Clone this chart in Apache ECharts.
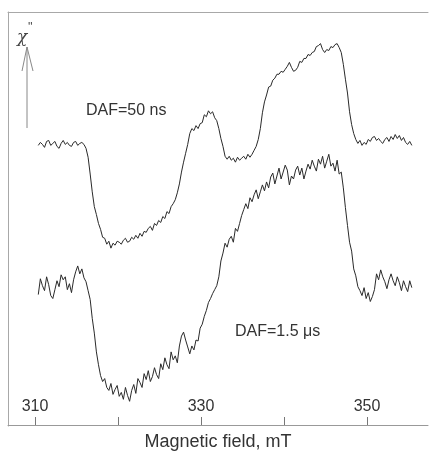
<!DOCTYPE html>
<html>
<head>
<meta charset="utf-8">
<script src="https://cdn.jsdelivr.net/npm/echarts@6/dist/echarts.min.js"></script>
<style>
  html, body { margin: 0; padding: 0; background: #fff; }
  #chart { width: 430px; height: 456px; }
</style>
</head>
<body>
<div id="chart"></div>
<script>
// magnetic field, mT (sampling grid shared by both traces)
const field = [
  310.4, 310.65, 310.9, 311.15, 311.4, 311.65, 311.9, 312.15,
  312.4, 312.65, 312.9, 313.15, 313.4, 313.65, 313.9, 314.15,
  314.4, 314.65, 314.9, 315.15, 315.4, 315.65, 315.9, 316.15,
  316.4, 316.65, 316.9, 317.15, 317.4, 317.65, 317.9, 318.15,
  318.4, 318.65, 318.9, 319.15, 319.4, 319.65, 319.9, 320.15,
  320.4, 320.65, 320.9, 321.15, 321.4, 321.65, 321.9, 322.15,
  322.4, 322.65, 322.9, 323.15, 323.4, 323.65, 323.9, 324.15,
  324.4, 324.65, 324.9, 325.15, 325.4, 325.65, 325.9, 326.15,
  326.4, 326.65, 326.9, 327.15, 327.4, 327.65, 327.9, 328.15,
  328.4, 328.65, 328.9, 329.15, 329.4, 329.65, 329.9, 330.15,
  330.4, 330.65, 330.9, 331.15, 331.4, 331.65, 331.9, 332.15,
  332.4, 332.65, 332.9, 333.15, 333.4, 333.65, 333.9, 334.15,
  334.4, 334.65, 334.9, 335.15, 335.4, 335.65, 335.9, 336.15,
  336.4, 336.65, 336.9, 337.15, 337.4, 337.65, 337.9, 338.15,
  338.4, 338.65, 338.9, 339.15, 339.4, 339.65, 339.9, 340.15,
  340.4, 340.65, 340.9, 341.15, 341.4, 341.65, 341.9, 342.15,
  342.4, 342.65, 342.9, 343.15, 343.4, 343.65, 343.9, 344.15,
  344.4, 344.65, 344.9, 345.15, 345.4, 345.65, 345.9, 346.15,
  346.4, 346.65, 346.9, 347.15, 347.4, 347.65, 347.9, 348.15,
  348.4, 348.65, 348.9, 349.15, 349.4, 349.65, 349.9, 350.15,
  350.4, 350.65, 350.9, 351.15, 351.4, 351.65, 351.9, 352.15,
  352.4, 352.65, 352.9, 353.15, 353.4, 353.65, 353.9, 354.15,
  354.4, 354.65, 354.9, 355.15, 355.4
];

// chi'' (arb. units), DAF = 50 ns
const daf50ns = [
  283, 286, 284, 281, 287, 288, 283, 285, 287, 282,
  280, 285, 288, 284, 286, 283, 282, 286, 287, 283,
  285, 286, 284, 280, 271, 254, 236, 221, 213, 204,
  198, 190, 189, 183, 186, 179, 184, 182, 186, 185,
  183, 187, 189, 185, 186, 190, 188, 192, 189, 194,
  191, 196, 195, 199, 201, 197, 204, 202, 207, 205,
  211, 209, 216, 214, 221, 224, 228, 235, 244, 256,
  266, 275, 284, 295, 300, 298, 303, 300, 305, 306,
  314, 312, 318, 315, 317, 311, 308, 300, 290, 282,
  272, 269, 272, 268, 270, 266, 271, 268, 270, 272,
  269, 274, 271, 274, 278, 282, 289, 300, 316, 327,
  334, 342, 343, 349, 351, 355, 355, 358, 357, 360,
  363, 367, 362, 358, 359, 362, 368, 367, 371, 371,
  375, 374, 377, 378, 383, 384, 386, 380, 377, 380,
  379, 383, 382, 385, 386, 382, 377, 365, 350, 336,
  317, 304, 295, 289, 285, 288, 283, 286, 284, 289,
  287, 291, 292, 288, 290, 287, 285, 289, 291, 287,
  292, 289, 294, 290, 293, 288, 291, 286, 284, 287,
  283
];

// chi'' (arb. units), DAF = 1.5 us
const daf15us = [
  132, 148, 141, 136, 150, 142, 131, 128, 137, 146,
  140, 152, 147, 150, 137, 143, 134, 147, 155, 161,
  153, 158, 149, 145, 136, 127, 108, 93, 74, 61,
  50, 44, 47, 38, 35, 42, 31, 36, 40, 29,
  33, 26, 38, 30, 24, 35, 41, 32, 47, 43,
  38, 52, 46, 55, 44, 49, 58, 51, 47, 62,
  56, 68, 61, 57, 74, 66, 70, 63, 80, 90,
  94, 86, 79, 72, 80, 76, 86, 85, 98, 102,
  110, 116, 124, 128, 133, 137, 141, 150, 166, 174,
  184, 180, 188, 191, 185, 199, 196, 204, 212, 218,
  224, 219, 230, 226, 233, 238, 229, 236, 243, 237,
  246, 240, 251, 255, 244, 252, 260, 249, 256, 263,
  258, 243, 252, 249, 258, 262, 253, 260, 249, 257,
  264, 259, 268, 262, 257, 269, 264, 272, 260, 267,
  274, 262, 265, 257, 268, 254, 256, 240, 220, 202,
  185, 176, 158, 151, 140, 136, 131, 139, 128, 134,
  125, 130, 137, 153, 147, 157, 150, 145, 138, 147,
  153, 146, 141, 150, 144, 136, 146, 140, 135, 146,
  139
];

const tickValues = [310, 320, 330, 340, 350];
const labelValues = [310, 330, 350];

const chart = echarts.init(document.getElementById('chart'));

const font = '"Liberation Sans", Arial, sans-serif';
const ink = '#2a2a2a';
const frame = '#a8a8a8';

const option = {
  animation: false,
  backgroundColor: '#fff',
  grid: {
    left: 8,
    right: 2,
    top: 12,
    bottom: 25
  },
  xAxis: [
    {
      type: 'value',
      min: 306.75,
      max: 357.35,
      name: 'Magnetic field, mT',
      nameLocation: 'middle',
      nameGap: 7,
      nameTextStyle: {
        fontFamily: font,
        fontSize: 18,
        color: '#333',
        verticalAlign: 'top'
      },
      axisLine: { lineStyle: { color: '#999', width: 1 } },
      axisTick: {
        inside: true,
        length: 8,
        customValues: tickValues,
        lineStyle: { color: '#777' }
      },
      axisLabel: {
        inside: true,
        margin: 11,
        customValues: labelValues,
        fontFamily: font,
        fontSize: 16,
        color: '#333'
      },
      splitLine: { show: false }
    },
    {
      // top frame line only
      type: 'value',
      position: 'top',
      min: 306.75,
      max: 357.35,
      axisLine: { lineStyle: { color: frame, width: 1 } },
      axisTick: { show: false },
      axisLabel: { show: false },
      splitLine: { show: false }
    }
  ],
  yAxis: {
    type: 'value',
    min: -1,
    max: 418,
    axisLine: { show: true, lineStyle: { color: frame, width: 1 } },
    axisTick: { show: false },
    axisLabel: { show: false },
    splitLine: { show: false }
  },
  series: [
    {
      name: 'DAF=50 ns',
      type: 'line',
      showSymbol: false,
      data: field.map((f, k) => [f, daf50ns[k]]),
      lineStyle: { color: ink, width: 1 }
    },
    {
      name: 'DAF=1.5 μs',
      type: 'line',
      showSymbol: false,
      data: field.map((f, k) => [f, daf15us[k]]),
      lineStyle: { color: ink, width: 1 }
    }
  ],
  graphic: [
    // chi'' arrow
    {
      type: 'line',
      shape: { x1: 27, y1: 128, x2: 27, y2: 47 },
      style: { stroke: '#888', lineWidth: 1 }
    },
    {
      type: 'polyline',
      shape: { points: [[22, 71], [27, 47], [33, 71]] },
      style: { stroke: '#888', lineWidth: 1, fill: null }
    },
    {
      type: 'text',
      left: 17,
      top: 29,
      style: { text: 'χ', fontFamily: '"DejaVu Serif", serif', fontStyle: 'italic', fontSize: 17, fill: '#444' }
    },
    {
      type: 'text',
      left: 28,
      top: 22,
      style: { text: '\'\'', fontFamily: font, fontSize: 12, fill: '#444' }
    },
    {
      type: 'text',
      left: 86,
      top: 103,
      style: { text: 'DAF=50 ns', fontFamily: font, fontSize: 16, fill: '#333' }
    },
    {
      type: 'text',
      left: 235,
      top: 324,
      style: { text: 'DAF=1.5 μs', fontFamily: font, fontSize: 16, fill: '#333' }
    }
  ]
};

chart.setOption(option);
</script>
</body>
</html>
